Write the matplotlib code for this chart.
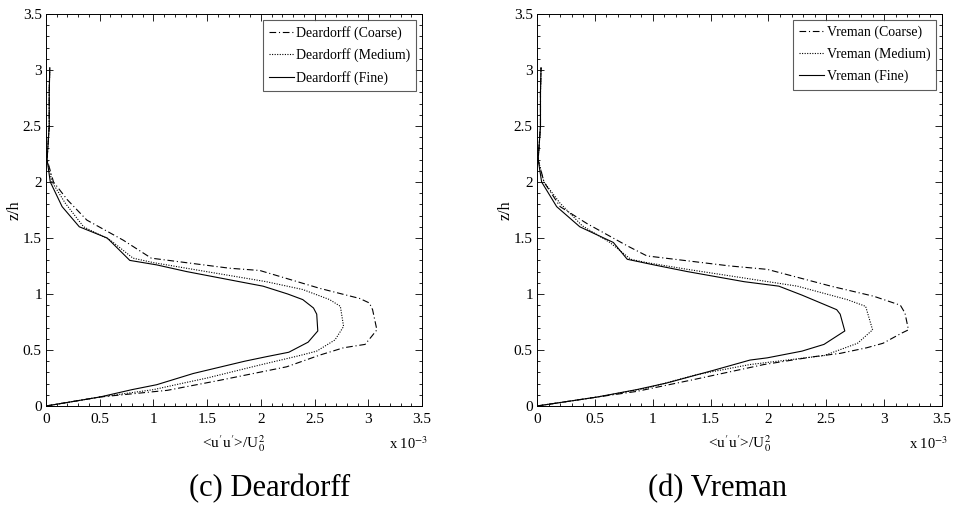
import matplotlib
matplotlib.use("Agg")
import matplotlib.pyplot as plt
from matplotlib.ticker import MultipleLocator, FormatStrFormatter

plt.rcParams['font.family'] = ['Liberation Serif', 'DejaVu Serif']
plt.rcParams['mathtext.fontset'] = 'stix'

# ---------------- data (x in units of 1e-3) ----------------
dear_fine_z = [0, 0.08, 0.146, 0.19, 0.29, 0.40, 0.44, 0.48, 0.57, 0.67, 0.82, 0.875, 0.95, 1.00, 1.07, 1.11, 1.20, 1.26, 1.30, 1.50, 1.60, 1.78, 2.0, 2.2, 2.5, 2.8, 3.02]
dear_fine_x = [0, 0.50, 0.80, 1.03, 1.37, 1.85, 2.05, 2.26, 2.44, 2.53, 2.52, 2.49, 2.39, 2.25, 2.02, 1.80, 1.31, 1.03, 0.78, 0.57, 0.31, 0.15, 0.04, 0.01, 0.03, 0.03, 0.035]

dear_med_z = [0, 0.08, 0.146, 0.205, 0.25, 0.366, 0.45, 0.49, 0.59, 0.71, 0.89, 0.95, 1.04, 1.11, 1.22, 1.28, 1.32, 1.48, 1.60, 1.81, 2.0, 2.2, 2.5, 2.8, 3.02]
dear_med_x = [0, 0.50, 1.00, 1.28, 1.50, 1.99, 2.36, 2.52, 2.69, 2.77, 2.74, 2.64, 2.39, 2.05, 1.37, 1.00, 0.81, 0.60, 0.35, 0.18, 0.056, 0.01, 0.03, 0.03, 0.035]

dear_coarse_z = [0, 0.08, 0.14, 0.23, 0.35, 0.455, 0.52, 0.55, 0.62, 0.68, 0.86, 0.92, 0.96, 1.05, 1.21, 1.23, 1.32, 1.48, 1.66, 1.84, 2.0, 2.2, 2.5, 2.8, 3.02]
dear_coarse_x = [0, 0.50, 1.13, 1.62, 2.24, 2.55, 2.77, 2.97, 3.03, 3.08, 3.04, 3.01, 2.92, 2.55, 1.99, 1.71, 0.98, 0.72, 0.38, 0.20, 0.07, 0.01, 0.03, 0.03, 0.035]

vre_fine_z = [0, 0.08, 0.146, 0.205, 0.32, 0.41, 0.43, 0.49, 0.55, 0.67, 0.82, 0.86, 0.99, 1.07, 1.11, 1.20, 1.26, 1.31, 1.46, 1.60, 1.78, 2.0, 2.2, 2.5, 2.8, 3.02]
vre_fine_x = [0, 0.52, 0.86, 1.12, 1.53, 1.84, 1.99, 2.29, 2.48, 2.66, 2.62, 2.59, 2.29, 2.09, 1.79, 1.30, 1.01, 0.78, 0.66, 0.37, 0.17, 0.04, 0.01, 0.03, 0.03, 0.035]

vre_med_z = [0, 0.08, 0.16, 0.28, 0.37, 0.41, 0.45, 0.56, 0.68, 0.89, 0.95, 1.07, 1.13, 1.22, 1.28, 1.31, 1.46, 1.61, 1.81, 2.0, 2.2, 2.5, 2.8, 3.02]
vre_med_x = [0, 0.52, 0.95, 1.38, 1.84, 2.16, 2.48, 2.77, 2.90, 2.84, 2.68, 2.25, 1.87, 1.30, 0.95, 0.81, 0.63, 0.39, 0.20, 0.06, 0.01, 0.03, 0.03, 0.035]

vre_coarse_z = [0, 0.08, 0.13, 0.235, 0.37, 0.44, 0.47, 0.52, 0.56, 0.65, 0.68, 0.83, 0.90, 0.98, 1.07, 1.22, 1.25, 1.34, 1.43, 1.63, 1.78, 2.0, 2.2, 2.5, 2.8, 3.02]
vre_coarse_x = [0, 0.52, 0.86, 1.35, 1.96, 2.39, 2.62, 2.85, 2.99, 3.15, 3.21, 3.18, 3.14, 2.91, 2.54, 1.99, 1.67, 0.95, 0.78, 0.43, 0.20, 0.06, 0.01, 0.03, 0.03, 0.035]

tick_vals = [0, 0.5, 1, 1.5, 2, 2.5, 3, 3.5]

panels = [
    dict(name="Deardorff", caption="(c) Deardorff",
         rect=[46/954, 1-406/509, 376/954, 392/509],
         series=[(dear_coarse_x, dear_coarse_z, "Coarse"),
                 (dear_med_x, dear_med_z, "Medium"),
                 (dear_fine_x, dear_fine_z, "Fine")],
         cap_x=270/954),
    dict(name="Vreman", caption="(d) Vreman",
         rect=[537/954, 1-406/509, 405/954, 392/509],
         series=[(vre_coarse_x, vre_coarse_z, "Coarse"),
                 (vre_med_x, vre_med_z, "Medium"),
                 (vre_fine_x, vre_fine_z, "Fine")],
         cap_x=718/954),
]

styles = {
    "Coarse": dict(linestyle=(0, (6, 2.5, 1, 2.5))),
    "Medium": dict(linestyle=(0, (1, 1.3))),
    "Fine": dict(linestyle="-"),
}

fig = plt.figure(figsize=(9.54, 5.09), dpi=100)

for p in panels:
    ax = fig.add_axes(p["rect"])
    for xs, zs, lab in p["series"]:
        ax.plot(xs, zs, color="black", linewidth=0.8,
                label=f"{p['name']} ({lab})", **styles[lab])
    ax.set_xlim(0, 3.5)
    ax.set_ylim(0, 3.5)
    ax.set_xticks(tick_vals)
    ax.set_yticks(tick_vals)
    ax.xaxis.set_major_formatter(FormatStrFormatter('%g'))
    ax.yaxis.set_major_formatter(FormatStrFormatter('%g'))
    ax.xaxis.set_minor_locator(MultipleLocator(0.1))
    ax.yaxis.set_minor_locator(MultipleLocator(0.1))
    ax.tick_params(which='both', direction='in', top=True, right=True,
                   labelsize=11, width=0.6)
    ax.tick_params(axis='x', which='major', pad=5)
    ax.tick_params(axis='y', which='major', pad=3)
    ax.tick_params(which='major', length=5)
    ax.tick_params(which='minor', length=2.5)
    for s in ax.spines.values():
        s.set_linewidth(0.7)
    ax.set_ylabel("z/h", fontsize=11.5, labelpad=0)
    ax.set_xlabel(r"<u$^{\prime}$u$^{\prime}$>/U$_0^2$", fontsize=11, labelpad=5)
    ax.text(1.016, -0.095, r"x 10$^{-3}$", transform=ax.transAxes,
            ha='right', va='center', fontsize=10.5)
    leg = ax.legend(loc='upper right', fontsize=10, frameon=True, fancybox=False,
                    handlelength=1.8, handletextpad=0.15, borderpad=0.45,
                    labelspacing=0.62, borderaxespad=0.4)
    leg.get_frame().set_edgecolor('#333333')
    leg.get_frame().set_linewidth(0.8)
    fig.text(p["cap_x"], 1-489/509, p["caption"], ha='center', va='center',
             fontsize=22)

fig.savefig("out.png", dpi=100)
